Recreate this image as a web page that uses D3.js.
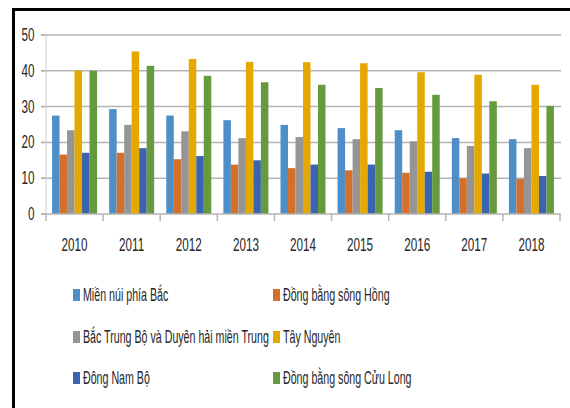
<!DOCTYPE html>
<html><head><meta charset="utf-8">
<script src="https://cdn.jsdelivr.net/npm/d3@7"></script>
<style>body{margin:0;background:#fff}svg{display:block}text{font-family:"Liberation Sans Narrow","Liberation Sans",Arial,sans-serif;fill:#262626}</style>
</head><body><svg id="c" width="570" height="408"></svg>
<script>
const years = ["2010","2011","2012","2013","2014","2015","2016","2017","2018"];
const seriesNames = ["Miền núi phía Bắc","Đồng bằng sông Hồng","Bắc Trung Bộ và Duyên hải miền Trung","Tây Nguyên","Đông Nam Bộ","Đồng bằng sông Cửu Long"];
const mienNui = [27.5,29.3,27.5,26.2,24.9,24.0,23.4,21.2,20.9];
const dbSongHong = [16.6,17.1,15.3,13.8,12.8,12.2,11.5,10.0,9.8];
const bacTrungBo = [23.4,24.9,23.1,21.2,21.5,20.9,20.3,19.0,18.4];
const tayNguyen = [40.1,45.4,43.3,42.5,42.4,42.1,39.6,38.9,36.1];
const dongNamBo = [17.1,18.4,16.2,15.0,13.8,13.8,11.8,11.3,10.6];
const dbCuuLong = [40.0,41.4,38.6,36.8,36.1,35.2,33.3,31.5,30.2];
const yTicks = [0,10,20,30,40,50];
const colors = ["#4f8fc8","#d4702c","#959595","#e5a800","#3b64ae","#659a3f"];

const seriesValues = [mienNui,dbSongHong,bacTrungBo,tayNguyen,dongNamBo,dbCuuLong];
const svg = d3.select("#c");
svg.append("rect").attr("width",570).attr("height",408).attr("fill","#fff");

const FSN = 19, FSL = 18;
function measure(str, fs){
  const t = svg.append("text").attr("font-size",fs).text(str);
  const w = t.node().getComputedTextLength(); t.remove(); return w;
}
const SXnum = 26 / measure("2010", FSN);
const SXleg = 186 / measure(seriesNames[2], FSL);

const y = d3.scaleLinear().domain([0,50]).range([214,35]);
const x0 = d3.scaleBand().domain(years).range([46,560]).paddingInner(0.212).paddingOuter(0.106);
const x1 = d3.scaleBand().domain(d3.range(seriesNames.length)).range([0,x0.bandwidth()]);

// gridlines
svg.append("g").selectAll("line").data(yTicks.filter(t=>t>0)).join("line")
  .attr("x1",41).attr("x2",561).attr("y1",d=>y(d)).attr("y2",d=>y(d))
  .attr("stroke","#b4b4b4").attr("stroke-width",1.5);
svg.append("g").selectAll("line").data(yTicks).join("line")
  .attr("x1",41).attr("x2",46).attr("y1",d=>y(d)).attr("y2",d=>y(d))
  .attr("stroke","#b4b4b4").attr("stroke-width",1.5);
svg.append("line").attr("x1",46).attr("x2",46).attr("y1",y(50)).attr("y2",y(0)).attr("stroke","#d0d0d0").attr("stroke-width",1);

// bars
const groups = svg.append("g").selectAll("g").data(years).join("g")
  .attr("transform",d=>`translate(${x0(d)},0)`);
groups.selectAll("rect").data((d,i)=>seriesValues.map((s,k)=>({k,v:s[i]}))).join("rect")
  .attr("x",d=>x1(d.k)).attr("width",x1.bandwidth())
  .attr("y",d=>y(d.v)).attr("height",d=>y(0)-y(d.v))
  .attr("fill",d=>colors[d.k]);

// x axis line and ticks
svg.append("line").attr("x1",41).attr("x2",561).attr("y1",y(0)).attr("y2",y(0)).attr("stroke","#b4b4b4").attr("stroke-width",1.5);
const step = x0.step();
const bounds = d3.range(years.length+1).map(i=>46+i*step);
svg.append("g").selectAll("line").data(bounds).join("line")
  .attr("x1",d=>d).attr("x2",d=>d).attr("y1",y(0)).attr("y2",221)
  .attr("stroke","#b4b4b4").attr("stroke-width",1.5);

// y labels
svg.append("g").selectAll("g").data(yTicks).join("g")
  .attr("transform",d=>`translate(34.5,${y(d)+6}) scale(${SXnum},1)`)
  .append("text").attr("text-anchor","end").attr("font-size",FSN).text(d=>d);

// x labels
svg.append("g").selectAll("g").data(years).join("g")
  .attr("transform",d=>`translate(${x0(d)+x0.bandwidth()/2},251) scale(${SXnum},1)`)
  .append("text").attr("text-anchor","middle").attr("font-size",FSN).text(d=>d);

// legend
const legX = [73,273], legY = [295,337,378];
const leg = svg.append("g").selectAll("g").data(seriesNames).join("g")
  .attr("transform",(d,i)=>`translate(${legX[i%2]},${legY[Math.floor(i/2)]})`);
leg.append("rect").attr("x",0).attr("y",-6).attr("width",7).attr("height",12).attr("fill",(d,i)=>colors[i]);
leg.append("g").attr("transform",`translate(10,5.5) scale(${SXleg},1)`)
  .append("text").attr("font-size",FSL).text(d=>d);

// border
svg.append("line").attr("x1",13.5).attr("x2",13.5).attr("y1",8).attr("y2",408).attr("stroke","#000").attr("stroke-width",3);
svg.append("line").attr("x1",12).attr("x2",570).attr("y1",9.5).attr("y2",9.5).attr("stroke","#000").attr("stroke-width",3);
</script></body></html>
